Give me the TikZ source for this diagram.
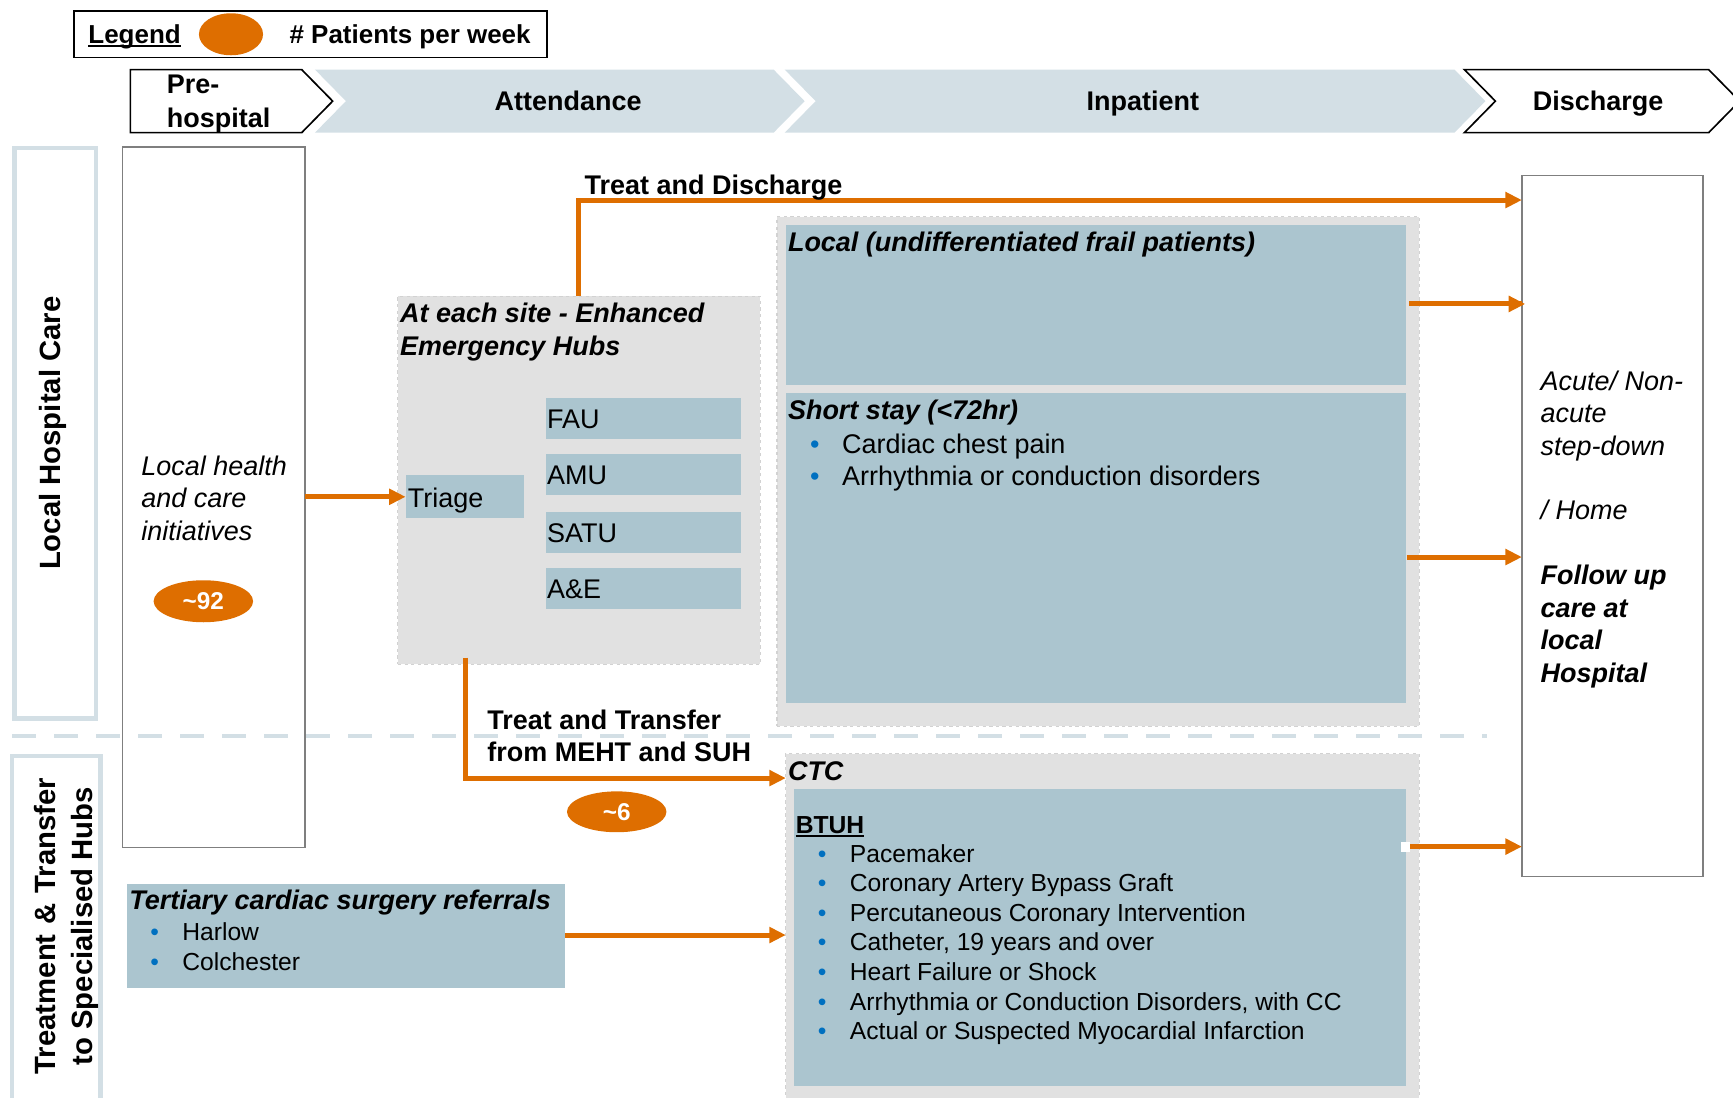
\documentclass[tikz,border=0pt]{standalone}
\usepackage{fontspec}
\setmainfont{Liberation Sans}
\usetikzlibrary{arrows.meta,shapes.geometric}

\definecolor{orng}{HTML}{DE6E00}
\definecolor{boxblue}{HTML}{ABC5CF}
\definecolor{chev}{HTML}{D3DFE5}
\definecolor{hubgray}{HTML}{E1E1E1}
\definecolor{hubedge}{HTML}{D2D2D2}
\definecolor{frame}{HTML}{7F7F7F}
\definecolor{dotblue}{HTML}{0070C0}

\newcommand\fsz[2]{\fontsize{#1}{#2}\selectfont}
% heavier underline for headings
\newcommand\thickul[1]{\setbox0\hbox{#1}\rlap{\rule[-3.5pt]{\wd0}{1.8pt}}\box0}
% stacked text lines: style, x, first baseline, line pitch, name prefix, lines
\newcommand\textlines[6]{%
  \foreach \ln [count=\k from 0] in {#6}
    \node[#1] (#5-\k) at (#2, {#3+\k*#4}) {\ln};}

\begin{document}
\begin{tikzpicture}[x=1pt,y=-1pt,
  txt/.style={inner sep=0pt, outer sep=0pt, anchor=base west, font=\fsz{24.4}{29.5}},
  bld/.style={txt, font=\fsz{24.4}{29.5}\bfseries},
  bit/.style={txt, font=\fsz{24.4}{29.5}\bfseries\itshape},
  itl/.style={txt, font=\fsz{24.4}{29.5}\itshape},
  sml/.style={txt, font=\fsz{22.3}{26.8}},
  dot/.style={txt, text=dotblue},
  sdot/.style={sml, text=dotblue},
  rect/.style={inner sep=0pt, outer sep=0pt, anchor=north west},
  bluebox/.style={rect, fill=boxblue},
  graybox/.style={rect, fill=hubgray, draw=hubedge, dashed, line width=1pt},
  whitebox/.style={rect, fill=white, draw=frame, line width=1.3pt},
  lane/.style={rect, draw=chev, line width=4pt},
  count/.style={ellipse, fill=orng, inner sep=0pt, text=white, font=\fsz{22}{26}\bfseries},
  flow/.style={draw=orng, line width=4.5pt, -{Triangle[length=15pt,width=14pt]}},
]
\useasboundingbox (0,0) rectangle (1568,993);

% ---- legend ----
\node[rect, draw=black, line width=1.5pt, minimum width=428pt, minimum height=42pt] (legend) at (67,10) {};
\node[bld, font=\fsz{23.5}{28}\bfseries] (legendtxt) at (80,39) {\thickul{Legend}};
\node[count, minimum width=58pt, minimum height=38pt] (legendkey) at (209,31) {};
\node[bld, font=\fsz{23.5}{28}\bfseries] (legendinfo) at (262,39) {\# Patients per week};

% ---- stage chevrons ----
\fill[chev] (285,63) -- (700,63) -- (728,91.5) -- (700,120) -- (285,120) -- (313,91.5) -- cycle;
\fill[chev] (710,63) -- (1316,63) -- (1344,91.5) -- (1316,120) -- (710,120) -- (738,91.5) -- cycle;
\draw[black, line width=1.5pt, fill=white] (118,63) -- (273,63) -- (301,91.5) -- (273,120) -- (118,120) -- cycle;
\draw[black, line width=1.5pt, fill=white] (1325,63) -- (1546,63) -- (1574,91.5) -- (1546,120) -- (1325,120) -- (1353,91.5) -- cycle;
\textlines{bld}{151}{85}{30}{prehosp}{Pre-,hospital}
\node[bld, anchor=base] (attendance) at (514,100) {Attendance};
\node[bld, anchor=base] (inpatient) at (1034,100) {Inpatient};
\node[bld, anchor=base] (discharge) at (1446,100) {Discharge};

% ---- swim lanes ----
\node[lane, minimum width=74pt, minimum height=516pt] (lanelocal) at (13,134) {};
\node[rotate=90, inner sep=0pt, font=\fsz{26.5}{33}\bfseries] (lanelocaltxt) at (48,392) {Local Hospital Care};
\node[lane, minimum width=80pt, minimum height=330pt] (lanetert) at (11,684) {};
\node[rotate=90, inner sep=0pt, align=center, font=\fsz{26.5}{33}\bfseries] (lanetertxt) at (60,838)
  {Treatment\,\,\&\,\,Transfer\\to Specialised Hubs};

% ---- pre-hospital column ----
\node[whitebox, minimum width=165pt, minimum height=634pt] (pre) at (111,133) {};
\textlines{itl}{128}{430}{29.5}{pretxt}{Local health,and care,initiatives}
\node[count, minimum width=90pt, minimum height=38pt] (n92) at (184,544) {\textasciitilde 92};

% ---- enhanced emergency hubs ----
\node[graybox, minimum width=328pt, minimum height=333pt] (hub) at (360,268) {};
\textlines{bit}{362}{292}{30}{hubtitle}{At each site - Enhanced,Emergency Hubs}
\node[bluebox, minimum width=107pt, minimum height=39pt] (triage) at (367,430) {};
\node[txt] (triagetxt) at (369,459) {Triage};
\foreach \nm/\yy/\lb in {fau/360/FAU, amu/411/AMU, satu/463/SATU, ae/514/A\&E}{
  \node[bluebox, minimum width=176pt, minimum height=37pt] (\nm) at (494,\yy) {};
  \node[txt] (\nm txt) at (495,\yy+27.5) {\lb};
}

% ---- lane divider ----
\draw[chev, line width=4pt, dash pattern=on 22pt off 16pt] (11,666) -- (1345,666);

% ---- inpatient ----
\node[graybox, minimum width=581pt, minimum height=461pt] (inpat) at (703,196) {};
\node[bluebox, minimum width=561pt, minimum height=144pt] (localbox) at (711,204) {};
\node[bit] (localtitle) at (713,228) {Local (undifferentiated frail patients)};
\node[bluebox, minimum width=561pt, minimum height=280pt] (shortbox) at (711,356) {};
\node[bit] (shorttitle) at (713,380) {Short stay (<72hr)};
\textlines{dot}{733}{410}{29}{ssdot}{•,•}
\textlines{txt}{762}{410}{29}{ss}{Cardiac chest pain,Arrhythmia or conduction disorders}

\node[graybox, minimum width=573pt, minimum height=330pt] (ctc) at (711,682) {};
\node[bit] (ctctitle) at (713,706) {CTC};
\node[bluebox, minimum width=554pt, minimum height=269pt] (btuh) at (718,714) {};
\node[bld, font=\fsz{22.3}{26.8}\bfseries] (btuhtitle) at (720,754) {\thickul{BTUH}};
\textlines{sdot}{740}{780}{26.8}{btdot}{•,•,•,•,•,•,•}
\textlines{sml}{769}{780}{26.8}{bt}{Pacemaker,Coronary Artery Bypass Graft,Percutaneous Coronary Intervention,{Catheter, 19 years and over},Heart Failure or Shock,{Arrhythmia or Conduction Disorders, with CC},Actual or Suspected Myocardial Infarction}

% ---- tertiary referrals ----
\node[bluebox, minimum width=396pt, minimum height=94pt] (tert) at (115,800) {};
\node[bit] (terttitle) at (117,823) {Tertiary cardiac surgery referrals};
\textlines{sdot}{136}{851}{27}{tdot}{•,•}
\textlines{sml}{165}{851}{27}{tl}{Harlow,Colchester}

% ---- discharge ----
\node[whitebox, minimum width=164pt, minimum height=634pt] (dis) at (1377,159) {};
\textlines{itl}{1394}{353}{29.5}{acute}{Acute/ Non-,acute,step-down}
\node[itl] (home) at (1394,470) {/ Home};
\textlines{bit}{1394}{529}{29.5}{follow}{Follow up,care at,local,Hospital}

% ---- flows ----
\coordinate (tdstart) at (523,268);
\coordinate (tdend) at (1377,181);
\draw[flow] (tdstart) |- (tdend);
\node[bld] (tdlabel) at (529,176) {Treat and Discharge};

\draw[flow] (pre.east |- triage.west) -- (triage.west);

\coordinate (ttstart) at (421,595);
\coordinate (ttend) at (711,704);
\draw[flow] (ttstart) |- (ttend);
\textlines{bld}{441}{660}{29}{ttlabel}{Treat and Transfer,from MEHT and SUH}
\node[count, minimum width=90pt, minimum height=37pt] (n6) at (558,734.5) {\textasciitilde 6};

\coordinate (lcout) at (1275,275);
\draw[flow] (lcout) -- (dis.west |- lcout) -- ++(3,0);
\coordinate (ssout) at (1273,504);
\draw[flow] (ssout) -- (dis.west |- ssout);
\fill[white] (1268,762) rectangle (1276,771);
\coordinate (btout) at (1276,766);
\draw[flow] (btout) -- (dis.west |- btout);
\draw[flow] (tert.east |- 0,846) -- (ctc.west |- 0,846);

\end{tikzpicture}
\end{document}
